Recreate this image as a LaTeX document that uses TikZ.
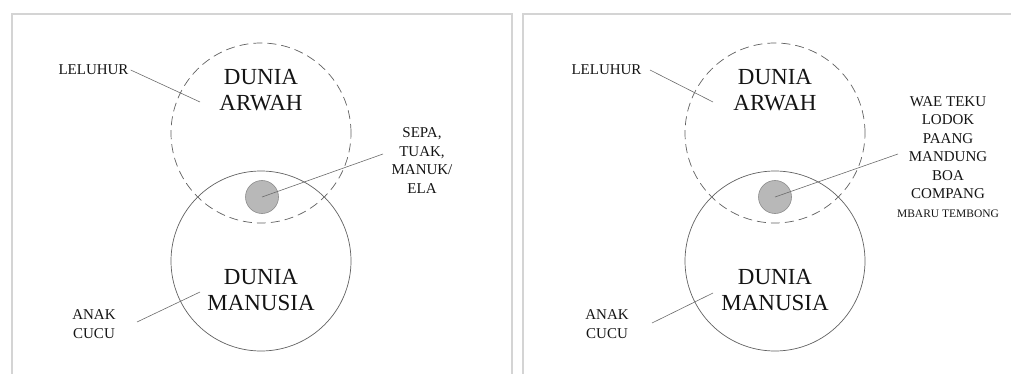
\documentclass[tikz,border=0pt]{standalone}
\usepackage{fontspec}
\setmainfont{Liberation Serif}
\begin{document}
\begin{tikzpicture}[x=1pt,y=-1pt,
  frame/.style={draw=black!17, line width=1.5pt},
  world/.style={circle, draw=black!62, line width=0.7pt, minimum size=180pt, inner sep=0pt},
  spirit/.style={world, dash pattern=on 9pt off 5pt},
  offering/.style={circle, draw=black!45, line width=0.6pt, fill=black!28, minimum size=33pt, inner sep=0pt},
  title/.style={align=center, font=\fontsize{23}{26}\selectfont, text=black!92, inner sep=0pt},
  label/.style={align=center, font=\fontsize{15}{18.5}\selectfont, text=black!92, inner sep=2pt},
  leader/.style={draw=black!58, line width=0.6pt}]
\path[use as bounding box] (0,0) rectangle (1011,374);
% frames
\draw[frame] (12,374) -- (12,14) -- (512,14) -- (512,374);
\draw[frame] (523,374) -- (523,14) -- (1011,14);
% ---------- left panel ----------
\node[spirit] (arwahL) at (261,133) {};
\node[world] (manusiaL) at (261,261) {};
\node[offering] (sepaL) at (262,197) {};
\node[title] (tArwahL) at (261,90.5) {DUNIA\\ARWAH};
\node[title] (tManL) at (261,290.5) {DUNIA\\MANUSIA};
\node[label] (leluhurL) at (93.5,70) {LELUHUR};
\coordinate (leluhurLend) at (200,102);
\draw[leader] (leluhurL.east) -- (leluhurLend);
\node[label] (giftL) at (422,160.5) {SEPA,\\TUAK,\\MANUK/\\ELA};
\coordinate (giftLstart) at (383,154);
\draw[leader] (giftLstart) -- (sepaL.center);
\node[label] (anakL) at (94,324) {ANAK\\CUCU};
\coordinate (anakLstart) at (137,322);
\coordinate (anakLend) at (200,292);
\draw[leader] (anakLstart) -- (anakLend);
% ---------- right panel ----------
\node[spirit] (arwahR) at (775,133) {};
\node[world] (manusiaR) at (775,261) {};
\node[offering] (sepaR) at (775,197) {};
\node[title] (tArwahR) at (775,90.5) {DUNIA\\ARWAH};
\node[title] (tManR) at (775,290.5) {DUNIA\\MANUSIA};
\node[label] (leluhurR) at (606.5,70) {LELUHUR};
\coordinate (leluhurRstart) at (650,70);
\coordinate (leluhurRend) at (713,102);
\draw[leader] (leluhurRstart) -- (leluhurRend);
\node[label] (giftR) at (948,157) {WAE TEKU\\LODOK\\PAANG\\MANDUNG\\BOA\\COMPANG\\{\fontsize{11.5}{18.5}\selectfont MBARU TEMBONG}};
\coordinate (giftRstart) at (898,154);
\draw[leader] (giftRstart) -- (sepaR.center);
\node[label] (anakR) at (607,324) {ANAK\\CUCU};
\coordinate (anakRstart) at (652,323);
\coordinate (anakRend) at (713,293);
\draw[leader] (anakRstart) -- (anakRend);
\end{tikzpicture}
\end{document}
